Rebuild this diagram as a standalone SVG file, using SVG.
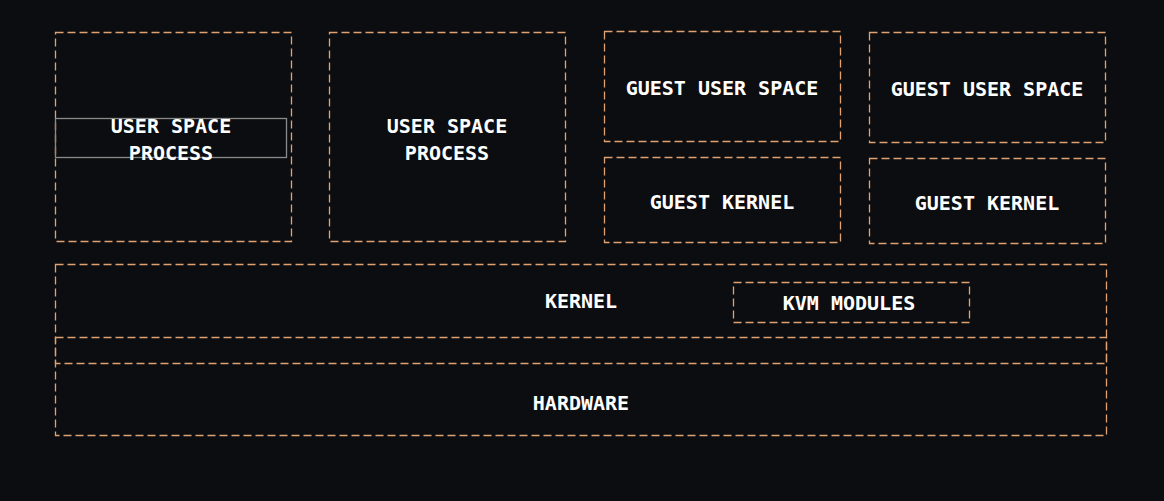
<svg xmlns="http://www.w3.org/2000/svg" width="1164" height="501" viewBox="0 0 1164 501">
<style>
.b{fill:none;stroke:#e0a272;stroke-width:1.3;stroke-dasharray:8 4}
.t{font-family:"DejaVu Sans Mono",monospace;font-weight:bold;font-size:20px;fill:#ffffff;text-anchor:middle}
</style>
<rect width="1164" height="501" fill="#0c0d10"/>
<g id="up1"><rect class="b" x="55.5" y="32.5" width="236" height="209"/><rect x="55.5" y="118.5" width="231" height="39" fill="none" stroke="#8a8a8a" stroke-width="1.3"/><text class="t" x="171" y="133">USER SPACE</text><text class="t" x="171" y="160">PROCESS</text></g>
<g id="up2"><rect class="b" x="329.5" y="32.5" width="236" height="209"/><text class="t" x="447" y="133">USER SPACE</text><text class="t" x="447" y="160">PROCESS</text></g>
<g id="gus1"><rect class="b" x="604.5" y="31.5" width="236" height="110"/><text class="t" x="722" y="95">GUEST USER SPACE</text></g>
<g id="gk1"><rect class="b" x="604.5" y="157.5" width="236" height="85"/><text class="t" x="722" y="209">GUEST KERNEL</text></g>
<g id="gus2"><rect class="b" x="869.5" y="32.5" width="236" height="110"/><text class="t" x="987" y="96">GUEST USER SPACE</text></g>
<g id="gk2"><rect class="b" x="869.5" y="158.5" width="236" height="85"/><text class="t" x="987" y="210">GUEST KERNEL</text></g>
<g id="kernel"><rect class="b" x="55.5" y="264.5" width="1051" height="99"/><text class="t" x="581" y="308">KERNEL</text></g>
<g id="kvm"><rect class="b" x="733.5" y="282.5" width="236" height="40"/><text class="t" x="849" y="310">KVM MODULES</text></g>
<g id="hw"><rect class="b" x="55.5" y="337.5" width="1051" height="98"/><text class="t" x="581" y="410">HARDWARE</text></g>
<g id="connectors"/>
</svg>
